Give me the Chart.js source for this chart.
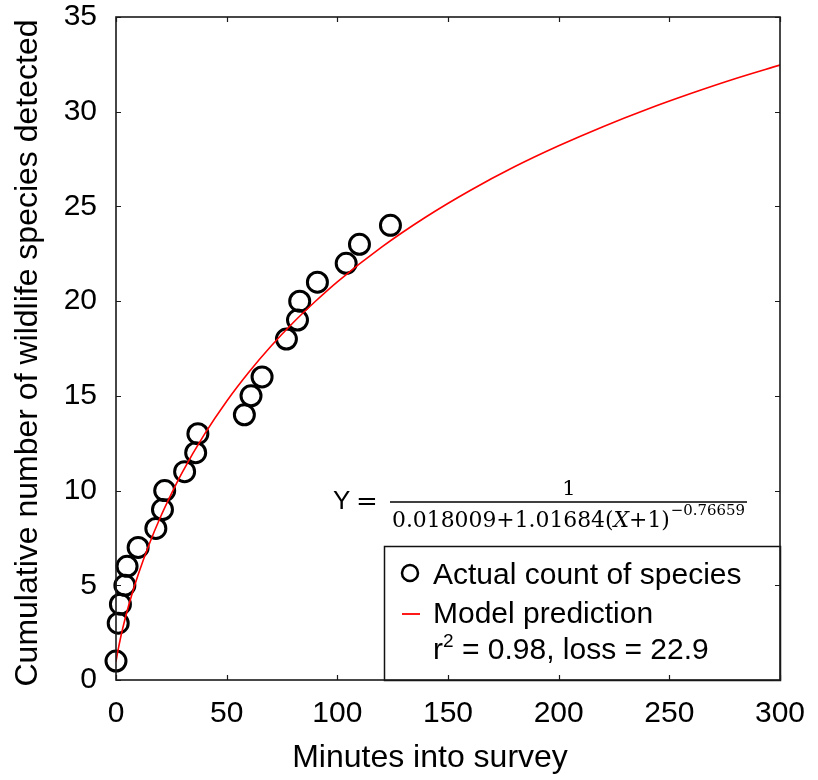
<!DOCTYPE html>
<html>
<head>
<meta charset="utf-8">
<script src="https://cdn.jsdelivr.net/npm/chart.js@4.4.1/dist/chart.umd.min.js"></script>
<style>
  html, body { margin: 0; padding: 0; background: #fff; }
  canvas { display: block; }
</style>
</head>
<body>
<canvas id="curveChart" width="818" height="780"></canvas>
<script>
const surveyMinutes = [0, 1, 2, 4, 5, 10, 18, 21, 22, 31, 36, 37, 58, 61, 66, 77, 82, 83, 91, 104, 110, 124];
const speciesCount  = [1, 3, 4, 5, 6, 7, 8, 9, 10, 11, 12, 13, 14, 15, 16, 18, 19, 20, 21, 22, 23, 24];

// ── model curve, sampled off the red line ──
const modelMinutes = [0, 1, 2, 3, 5, 7, 10, 15, 20, 25, 30, 40, 50, 60, 70, 80, 90, 100, 120, 140, 160, 180, 200, 220, 240, 260, 280, 300];
const modelSpecies = [0.97, 1.62, 2.19, 2.71, 3.63, 4.45, 5.56, 7.17, 8.58, 9.83, 10.98, 12.98, 14.72, 16.25, 17.62, 18.86, 19.98, 21.02, 22.85, 24.44, 25.84, 27.09, 28.20, 29.21, 30.13, 30.97, 31.75, 32.46];

// ── axes / labels ──
const xTickStep = 50;
const yTickStep = 5;
const xLabel = 'Minutes into survey';
const yLabel = 'Cumulative number of wildlife species detected';
const seriesLabels = ['Actual count of species', 'Model prediction'];
const fitStats = ['0.98', '22.9'];          // r², loss
const eqNumerator = '1';
const eqDenomParts = ['0.018009+1.01684(', 'X', '+1)'];
const eqExponent = '\u22120.76659';

const SANS = '"Liberation Sans", Arial, sans-serif';
const SERIF = '"DejaVu Serif", "Liberation Serif", serif';

// ── plugin: box, inner ticks, titles, equation, legend ──
const decorations = {
    id: 'decorations',
    afterDatasetsDraw(chart) {
        const { ctx, chartArea: a, scales: { x, y } } = chart;
        ctx.save();

        // legend box
        const lx = 384, ly = 546;
        ctx.fillStyle = '#fff';
        ctx.fillRect(lx, ly, a.right - lx, a.bottom - ly);
        ctx.strokeStyle = '#111';
        ctx.lineWidth = 1.5;
        ctx.strokeRect(lx + 0.5, ly + 0.5, a.right - lx, a.bottom - ly);

        ctx.fillStyle = '#000';
        ctx.font = '30px ' + SANS;
        ctx.textAlign = 'left';
        ctx.textBaseline = 'alphabetic';

        ctx.beginPath();
        ctx.lineWidth = 2.5;
        ctx.strokeStyle = '#000';
        ctx.arc(410, 573, 8, 0, Math.PI * 2);
        ctx.stroke();
        ctx.fillText(seriesLabels[0], 433, 584);

        ctx.beginPath();
        ctx.strokeStyle = '#ff0000';
        ctx.lineWidth = 1.8;
        ctx.moveTo(402, 614);
        ctx.lineTo(420, 614);
        ctx.stroke();
        ctx.fillText(seriesLabels[1], 433, 623);

        let tx = 433;
        ctx.fillText('r', tx, 659);
        tx += ctx.measureText('r').width;
        ctx.font = '19px ' + SANS;
        ctx.fillText('2', tx, 647);
        tx += ctx.measureText('2').width;
        ctx.font = '30px ' + SANS;
        ctx.fillText(' = ' + fitStats[0] + ', loss = ' + fitStats[1], tx, 659);

        // equation
        ctx.font = '26px ' + SANS;
        ctx.fillText('Y', 333, 509);
        ctx.font = '26px ' + SERIF;
        ctx.fillText('=', 356, 510);

        ctx.beginPath();
        ctx.strokeStyle = '#000';
        ctx.lineWidth = 1.5;
        ctx.moveTo(390, 502);
        ctx.lineTo(747, 502);
        ctx.stroke();

        ctx.font = '21px ' + SERIF;
        ctx.textAlign = 'center';
        ctx.fillText(eqNumerator, 569, 495);
        ctx.textAlign = 'left';

        const fonts = ['22px ' + SERIF, 'italic 22px ' + SERIF, '22px ' + SERIF];
        let w = 0;
        eqDenomParts.forEach((p, i) => { ctx.font = fonts[i]; w += ctx.measureText(p).width; });
        ctx.font = '15px ' + SERIF;
        const expW = ctx.measureText(eqExponent).width;
        const sx = (745 - 392) / (w + expW + 1);
        ctx.save();
        ctx.translate(392, 527);
        ctx.scale(sx, 1);
        let px = 0;
        eqDenomParts.forEach((p, i) => {
            ctx.font = fonts[i];
            ctx.fillText(p, px, 0);
            px += ctx.measureText(p).width;
        });
        ctx.font = '15px ' + SERIF;
        ctx.fillText(eqExponent, px + 1, -12);
        ctx.restore();

        // axis box
        ctx.strokeStyle = '#1a1a1a';
        ctx.lineWidth = 1.6;
        ctx.strokeRect(a.left, a.top, a.right - a.left, a.bottom - a.top);

        // inner tick marks on all four sides
        const tl = 5;
        ctx.beginPath();
        x.ticks.forEach(t => {
            const p = Math.round(x.getPixelForValue(t.value)) + 0.5;
            ctx.moveTo(p, a.bottom); ctx.lineTo(p, a.bottom - tl);
            ctx.moveTo(p, a.top);    ctx.lineTo(p, a.top + tl);
        });
        y.ticks.forEach(t => {
            const p = Math.round(y.getPixelForValue(t.value)) + 0.5;
            ctx.moveTo(a.left, p);  ctx.lineTo(a.left + tl, p);
            ctx.moveTo(a.right, p); ctx.lineTo(a.right - tl, p);
        });
        ctx.lineWidth = 1.2;
        ctx.stroke();

        // axis titles
        ctx.fillStyle = '#000';
        ctx.font = '32px ' + SANS;
        ctx.textAlign = 'center';
        ctx.fillText(xLabel, 430, 767);

        ctx.save();
        ctx.translate(37, 353);
        ctx.rotate(-Math.PI / 2);
        ctx.fillText(yLabel, 0, 0);
        ctx.restore();

        ctx.restore();
    }
};

document.addEventListener('DOMContentLoaded', () => {
    const ctx = document.getElementById('curveChart').getContext('2d');

    new Chart(ctx, {
        type: 'scatter',
        data: {
            datasets: [{
                label: seriesLabels[0],
                data: surveyMinutes.map((m, i) => ({ x: m, y: speciesCount[i] })),
                pointRadius: 10,
                pointHoverRadius: 10,
                pointBorderWidth: 3,
                pointBorderColor: '#000',
                pointBackgroundColor: 'rgba(0,0,0,0)',
                showLine: false,
                clip: false,
                order: 2
            }, {
                label: seriesLabels[1],
                type: 'line',
                data: modelMinutes.map((m, i) => ({ x: m, y: modelSpecies[i] })),
                borderColor: '#ff0000',
                borderWidth: 1.6,
                pointRadius: 0,
                fill: false,
                cubicInterpolationMode: 'monotone',
                order: 1
            }]
        },
        options: {
            responsive: false,
            animation: false,
            layout: { padding: { top: 17, right: 38, left: 0, bottom: 0 } },
            plugins: {
                legend: { display: false },
                tooltip: { enabled: false }
            },
            scales: {
                x: {
                    type: 'linear',
                    min: 0,
                    max: 300,
                    grid: { display: false },
                    border: { display: false },
                    ticks: {
                        stepSize: xTickStep,
                        padding: 11,
                        color: '#000',
                        font: { family: SANS, size: 30, lineHeight: 1 },
                        maxRotation: 0
                    },
                    afterFit: s => { s.height = 100; s.paddingLeft = 0; s.paddingRight = 0; }
                },
                y: {
                    min: 0,
                    max: 35,
                    grid: { display: false },
                    border: { display: false },
                    ticks: {
                        stepSize: yTickStep,
                        padding: 11,
                        color: '#000',
                        font: { family: SANS, size: 30, lineHeight: 1 }
                    },
                    afterFit: s => { s.width = 116; s.paddingTop = 0; s.paddingBottom = 0; }
                }
            }
        },
        plugins: [decorations]
    });
});
</script>
</body>
</html>
